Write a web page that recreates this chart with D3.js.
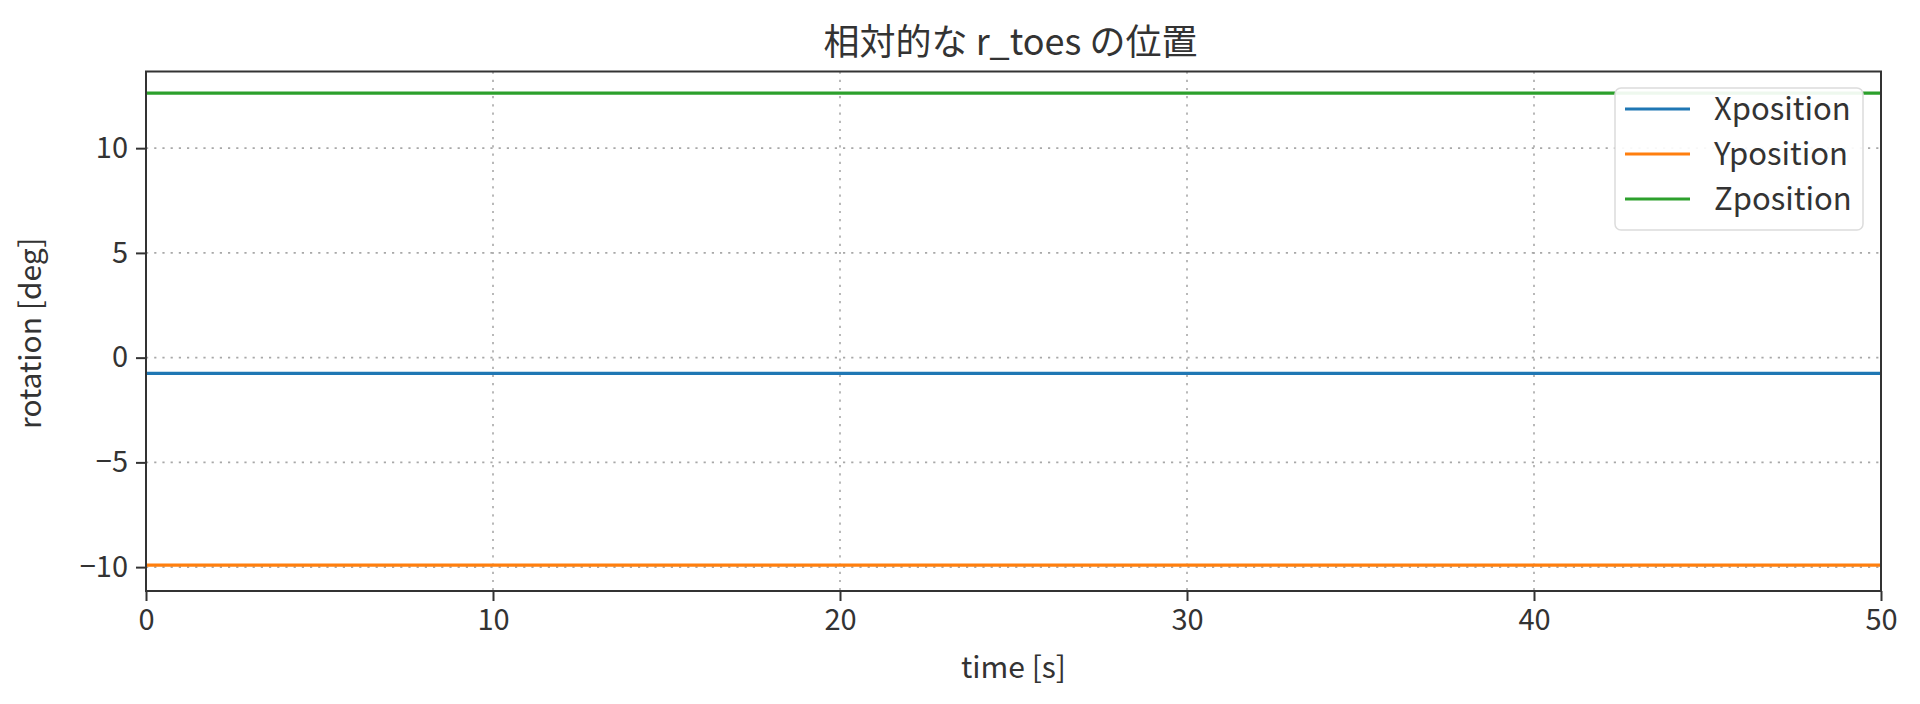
<!DOCTYPE html>
<html><head><meta charset="utf-8">
<script src="https://cdn.jsdelivr.net/npm/d3@7"></script>
<style>
html,body{margin:0;padding:0;background:#fff;}
svg{display:block;font-family:"Noto Sans CJK JP","Noto Sans",sans-serif;}
</style></head>
<body>
<svg id="chart" width="1920" height="704"></svg>
<script>
const titleText = "相対的な r_toes の位置";
const xLabel = "time [s]";
const yLabel = "rotation [deg]";
const seriesNames = ["Xposition", "Yposition", "Zposition"];
const seriesColors = ["#1f77b4", "#ff7f0e", "#2ca02c"];
const time = [0, 5, 10, 15, 20, 25, 30, 35, 40, 45, 50];
const xPos = [-0.75, -0.75, -0.75, -0.75, -0.75, -0.75, -0.75, -0.75, -0.75, -0.75, -0.75];
const yPos = [-9.9, -9.9, -9.9, -9.9, -9.9, -9.9, -9.9, -9.9, -9.9, -9.9, -9.9];
const zPos = [12.63, 12.63, 12.63, 12.63, 12.63, 12.63, 12.63, 12.63, 12.63, 12.63, 12.63];
const xTicks = [0, 10, 20, 30, 40, 50];
const yTicks = [-10, -5, 0, 5, 10];
const xDomain = [0, 50];
const yDomain = [-11.14, 13.66];

const seriesValues = [xPos, yPos, zPos];
const L = 146, R = 1881, T = 71.5, B = 591;
const svg = d3.select("#chart");
const x = d3.scaleLinear().domain(xDomain).range([L, R]);
const y = d3.scaleLinear().domain(yDomain).range([B, T]);

// grid
const grid = svg.append("g");
grid.selectAll(".gx").data(xTicks).join("line")
  .attr("x1", d => x(d)).attr("x2", d => x(d)).attr("y1", T).attr("y2", B)
  .attr("stroke", "#a8a8a8").attr("stroke-width", 1.6).attr("stroke-dasharray", "2.2,6");
grid.selectAll(".gy").data(yTicks).join("line")
  .attr("y1", d => y(d)).attr("y2", d => y(d)).attr("x1", L).attr("x2", R)
  .attr("stroke", "#a8a8a8").attr("stroke-width", 1.6).attr("stroke-dasharray", "2.2,6");

// lines
const line = d3.line().x((d, i) => x(time[i])).y(d => y(d));
svg.append("defs").append("clipPath").attr("id", "clip")
  .append("rect").attr("x", L).attr("y", T).attr("width", R - L).attr("height", B - T);
const lg = svg.append("g").attr("clip-path", "url(#clip)");
seriesValues.forEach((vals, k) => {
  lg.append("path").datum(vals).attr("d", line).attr("fill", "none")
    .attr("stroke", seriesColors[k]).attr("stroke-width", 3.2);
});

// axes
const fs = 29;
const xAxis = d3.axisBottom(x).tickValues(xTicks).tickSize(10).tickPadding(8).tickFormat(d3.format("d"));
const yAxis = d3.axisLeft(y).tickValues(yTicks).tickSize(10).tickPadding(8)
  .tickFormat(d => d < 0 ? "\u2212" + Math.abs(d) : String(d));
const gx = svg.append("g").attr("transform", `translate(0,${B})`).call(xAxis);
const gy = svg.append("g").attr("transform", `translate(${L},0)`).call(yAxis);
[gx, gy].forEach(g => {
  g.select(".domain").remove();
  g.selectAll(".tick line").attr("stroke", "#333").attr("stroke-width", 2);
  g.selectAll(".tick text").attr("fill", "#333").attr("font-size", fs)
    .attr("font-family", "'Noto Sans CJK JP', sans-serif");
});
svg.append("rect").attr("x", L).attr("y", T).attr("width", R - L).attr("height", B - T)
  .attr("fill", "none").attr("stroke", "#333").attr("stroke-width", 2);

// title & labels
svg.append("text").attr("x", (L + R) / 2 - 3).attr("y", 55).attr("text-anchor", "middle")
  .attr("font-size", 36).attr("fill", "#333").text(titleText);
svg.append("text").attr("x", (L + R) / 2).attr("y", 678).attr("text-anchor", "middle")
  .attr("font-size", 30).attr("fill", "#333").text(xLabel);
svg.append("text").attr("transform", `translate(41,${(T + B) / 2 + 2}) rotate(-90)`)
  .attr("text-anchor", "middle").attr("font-size", 30).attr("fill", "#333").text(yLabel);

// legend
const lgX = 1615, lgY = 88, lgW = 248, lgH = 142;
const leg = svg.append("g");
leg.append("rect").attr("x", lgX).attr("y", lgY).attr("width", lgW).attr("height", lgH)
  .attr("rx", 6).attr("fill", "#fff").attr("fill-opacity", 0.92)
  .attr("stroke", "#dcdcdc").attr("stroke-width", 1.5);
seriesNames.forEach((n, k) => {
  const cy = 109 + k * 45;
  leg.append("line").attr("x1", 1625).attr("x2", 1690).attr("y1", cy).attr("y2", cy)
    .attr("stroke", seriesColors[k]).attr("stroke-width", 3.2);
  leg.append("text").attr("x", 1714).attr("y", cy).attr("dy", "0.35em")
    .attr("font-size", 31).attr("fill", "#333").text(n);
});
</script>
</body></html>
